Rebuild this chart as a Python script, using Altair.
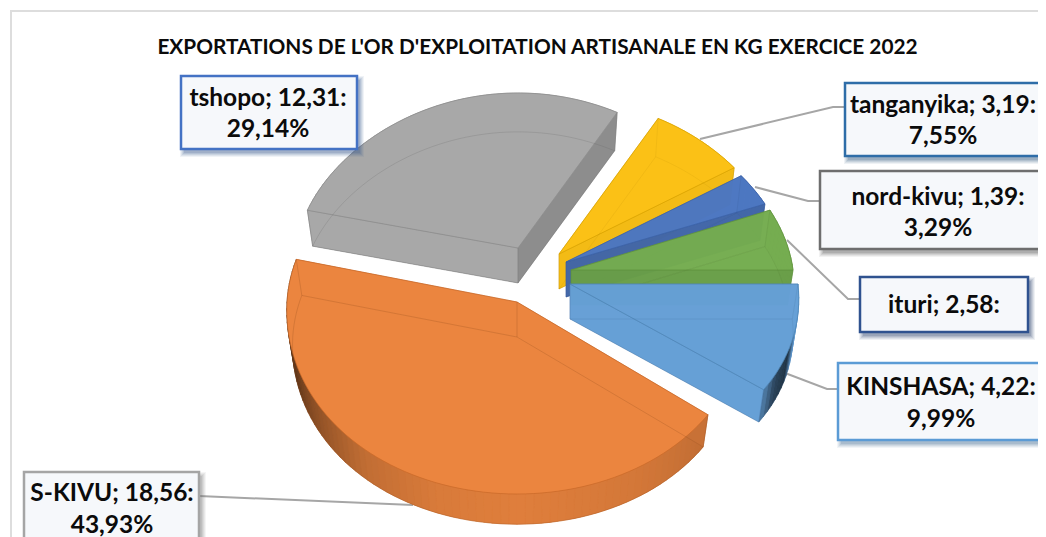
import math
import altair as alt
import pandas as pd

TITLE = "EXPORTATIONS DE L'OR D'EXPLOITATION ARTISANALE EN KG EXERCICE 2022"
names = ["KINSHASA", "S-KIVU", "tshopo", "tanganyika", "nord-kivu", "ituri"]
values = [4.22, 18.56, 12.31, 3.19, 1.39, 2.58]
percents = ["9,99%", "43,93%", "29,14%", "7,55%", "3,29%", ""]

colors = ["#5B9BD5", "#ED7D31", "#A5A5A5", "#FFC000", "#4472C4", "#70AD47"]
tops = ["#66A0D7", "#EB853F", "#A8A8A8", "#FBC116", "#4C77C3", "#75AE50"]
apex = [(570, 284), (517, 302), (518, 248), (559, 254), (566, 262), (571, 270)]
rx_base = [228, 230, 222, 222, 222, 222]
rx_front = [19, 10, 20, 20, 20, 20]
ry_front = [180, 192, 185, 185, 185, 185]
ry_back = [155, 175, 155, 155, 155, 160]
top_op = [0.88, 1, 1, 1, 0.88, 0.85]
wire_op = [.12, .25, .22, .1, .1, .12]
draw_order = [2, 3, 4, 5, 0, 1]
DEPTH = 35
SHRINK = 0.975

boxes = [
    (838, 363, 1052, 440, "#5B9BD5"), (24, 472, 199, 560, "#A5A5A5"),
    (181, 76, 357, 149, "#4472C4"), (845, 83, 1052, 156, "#2E6DA8"),
    (820, 171, 1052, 249, "#6E6E6E"), (860, 277, 1028, 332, "#2F528F"),
]
text_pos = [(941, 388, 420), (112, 494, 526), (268, 99, 130),
            (943, 106, 137), (938, 198, 229), (944, 306, 306)]
leaders = [
    [(785, 373), (827, 389), (838, 389)], [(199, 496), (413, 505)], None,
    [(700, 139), (833, 107), (845, 107)], [(755, 187), (808, 201), (820, 201)],
    [(787, 240), (848, 299), (860, 299)],
]
wall_shades = {
    0: [(0, .95), (16, .95), (22, .3), (30, .4), (36, .8)],
    1: [(36, .82), (60, .9), (90, .95), (110, .92), (130, .82), (150, .6), (165, .4), (195, .4)],
}


def mix(hex_c, f):
    c = [int(hex_c[i:i + 2], 16) for i in (1, 3, 5)]
    return "#" + "".join(f"{max(0, min(255, round(v * f))):02x}" for v in c)


def feature(kind, coords, fill="#000000", fo=0.0, stroke="#000000", so=0.0, sw=0.0):
    geometry = {"type": kind, "coordinates": coords}
    return {"type": "Feature", "geometry": geometry,
            "properties": {"fill": fill, "fo": fo, "stroke": stroke, "so": so, "sw": sw}}


def ell(i, ap, t):
    a = math.radians(t)
    s, c = math.sin(a), math.cos(a)
    rx = rx_base[i] + rx_front[i] * s
    ry = ry_front[i] if s > 0 else ry_back[i]
    return [ap[0] + rx * c, ap[1] + ry * s]


def low(ap, p):
    return [ap[0] + SHRINK * (p[0] - ap[0]), ap[1] + SHRINK * (p[1] - ap[1]) + DEPTH]


def shade(i, t):
    pts = wall_shades.get(i)
    if not pts:
        return 0.92
    for (a, fa), (b, fb) in zip(pts, pts[1:]):
        if a <= t <= b:
            return fa + (fb - fa) * (t - a) / (b - a)
    return pts[-1][1]


total = sum(values)
starts, ang = [], 0.0
for v in values:
    starts.append(ang)
    ang += v / total * 360

features = []
# outer frame of the chart
features.append(feature("LineString", [[11, 545], [11, 11], [1052, 11]],
                        stroke="#DDDDDD", so=1, sw=2))
# leader lines
for lead in leaders:
    if lead:
        features.append(feature("LineString", [list(p) for p in lead],
                                stroke="#A6A6A6", so=1, sw=2))
# slices, back to front
for i in draw_order:
    t0 = starts[i]
    t1 = t0 + values[i] / total * 360
    ap = apex[i]
    base, top = colors[i], tops[i]
    n = max(3, int((t1 - t0) / 2))
    ts = [t0 + (t1 - t0) * k / n for k in range(n + 1)]
    arc = [ell(i, ap, t) for t in ts]
    arc_low = [low(ap, p) for p in arc]
    ap_low = low(ap, ap)
    op = top_op[i]
    bottom = [list(ap_low)] + arc_low + [list(ap_low)]
    features.append(feature("Polygon", [bottom], mix(base, .9), op))
    for k in range(n):
        col = mix(top, shade(i, (ts[k] + ts[k + 1]) / 2))
        quad = [arc[k], arc[k + 1], arc_low[k + 1], arc_low[k], arc[k]]
        features.append(feature("Polygon", [quad], col, 1 if op == 1 else .95, col, 1, .6))
    # radial walls
    start_f = {0: .9, 1: .85, 2: .85, 3: .9, 4: .9, 5: .9}[i]
    end_f = {0: 1.0, 1: .9, 2: 1.0, 3: .97, 4: .85, 5: .9}[i]
    wall_a = [list(ap), arc[0], arc_low[0], list(ap_low), list(ap)]
    wall_b = [list(ap), arc[-1], arc_low[-1], list(ap_low), list(ap)]
    if i == 2:
        end_f, start_f = .84, 1.0
    features.append(feature("Polygon", [wall_a], mix(top, start_f), op, mix(top, .85), .5, .7))
    features.append(feature("Polygon", [wall_b], mix(top, end_f), op, mix(top, .85), .5, .7))
    # top face
    outline = [list(ap)] + arc + [list(ap)]
    features.append(feature("Polygon", [outline], top, op, mix(base, .85), .7, 1))
    # see-through wireframe of the lower edges
    features.append(feature("LineString", bottom, stroke=mix(base, .6), so=wire_op[i], sw=1))
    for p, q in ((ap, ap_low), (arc[0], arc_low[0]), (arc[-1], arc_low[-1])):
        features.append(feature("LineString", [list(p), list(q)], stroke=mix(base, .6), so=wire_op[i], sw=1))

# label boxes with a soft shadow
for (x0, y0, x1, y1, col) in boxes:
    for grow, o in ((4, .07), (3, .09), (2, .11), (1, .13), (0, .16)):
        sh = mix(col, .7)
        r = [[x0 + 3 - grow, y0 + 4 - grow], [x1 + 3 + grow, y0 + 4 - grow],
             [x1 + 3 + grow, y1 + 4 + grow], [x0 + 3 - grow, y1 + 4 + grow],
             [x0 + 3 - grow, y0 + 4 - grow]]
        features.append(feature("Polygon", [r], sh, o))
    r = [[x0, y0], [x1, y0], [x1, y1], [x0, y1], [x0, y0]]
    features.append(feature("Polygon", [r], "#F6F8FB", 1, col, 1, 2.5))

rows = []
for name, val, pct, (cx, y1, y2) in zip(names, values, percents, text_pos):
    rows.append({"x": cx - 8, "y": y1 - 8, "t": f"{name}; {val:.2f}:".replace(".", ",")})
    if pct:
        rows.append({"x": cx - 8, "y": y2 - 8, "t": pct})
labels = pd.DataFrame(rows)

shapes = alt.Chart(alt.InlineData(values=features)).mark_geoshape().encode(
    fill=alt.Fill("properties.fill:N", scale=None),
    fillOpacity=alt.FillOpacity("properties.fo:Q", scale=None),
    stroke=alt.Stroke("properties.stroke:N", scale=None),
    strokeOpacity=alt.StrokeOpacity("properties.so:Q", scale=None),
    strokeWidth=alt.StrokeWidth("properties.sw:Q", scale=None),
).project(type="identity", scale=1, translate=[-8, -8])

text = alt.Chart(labels).mark_text(
    font="Lato", fontWeight="bold", fontSize=24.5, color="#0B0B0B", baseline="middle", align="center"
).encode(
    x=alt.X("x:Q", scale=None, axis=None),
    y=alt.Y("y:Q", scale=None, axis=None),
    text="t:N",
)

chart = alt.layer(shapes, text).properties(
    width=1030, height=529, padding=0, background="white",
    autosize=alt.AutoSizeParams(type="none"),
    title=alt.TitleParams(
        TITLE, font="Lato", fontWeight="bold", fontSize=20.8, color="#0B0B0B",
        anchor="middle", frame="group", offset=-51, dx=14.5),
).configure_view(stroke=None)

chart.save("out.html", embed_options={"renderer": "svg", "actions": False})
